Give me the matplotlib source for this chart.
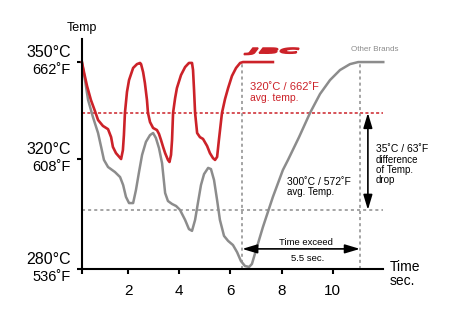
import matplotlib
matplotlib.use('Agg')
import matplotlib.pyplot as plt
from matplotlib.textpath import TextPath
from matplotlib.patches import PathPatch
from matplotlib.font_manager import FontProperties
from matplotlib.transforms import Affine2D

plt.rcParams['font.family'] = ['Liberation Sans', 'DejaVu Sans']

# JBC curve (time in sec, temperature on chart scale)
jbc_t = [0.20, 0.28, 0.40, 0.55, 0.71, 0.83, 1.02, 1.22, 1.34, 1.41, 1.53, 1.73,
         1.80, 1.84, 1.88, 1.96, 2.04, 2.20, 2.35, 2.47, 2.51, 2.59, 2.66, 2.74,
         2.78, 2.86, 2.98, 3.13, 3.21, 3.29, 3.37, 3.45, 3.56, 3.62, 3.68, 3.72,
         3.76, 3.84, 3.91, 4.07, 4.23, 4.38, 4.50, 4.54, 4.58, 4.62, 4.70, 4.81,
         4.93, 5.09, 5.20, 5.32, 5.40, 5.48, 5.55, 5.67, 5.79, 5.91, 6.06, 6.22,
         6.38, 6.49, 7.66]
jbc_temp = [350.0, 346.6, 341.9, 337.2, 333.4, 330.4, 328.4, 327.3, 324.6, 321.3, 319.2, 317.2,
            320.2, 325.3, 332.8, 339.9, 343.9, 348.0, 349.3, 349.7, 349.3, 346.6, 342.9, 337.2,
            332.8, 329.7, 327.7, 327.0, 325.7, 323.6, 321.3, 319.2, 316.9, 316.2, 318.6, 323.6,
            332.8, 337.8, 341.2, 345.6, 348.3, 349.7, 349.7, 347.3, 340.5, 332.8, 326.0, 324.6,
            324.0, 321.6, 319.2, 317.5, 316.9, 317.9, 323.6, 332.8, 337.5, 341.2, 345.3, 348.0,
            349.7, 350.0, 350.0]

# Other brands curve
other_t = [0.20, 0.32, 0.44, 0.63, 0.83, 0.95, 1.06, 1.22, 1.49, 1.69, 1.81, 1.92,
           2.04, 2.20, 2.31, 2.43, 2.55, 2.70, 2.86, 2.98, 3.09, 3.21, 3.33, 3.45,
           3.56, 3.72, 3.88, 4.03, 4.23, 4.38, 4.50, 4.62, 4.73, 4.85, 4.97, 5.13,
           5.24, 5.36, 5.48, 5.59, 5.75, 5.91, 6.10, 6.26, 6.41, 6.57, 6.73, 6.84,
           7.00, 7.27, 7.66, 8.05, 8.25, 8.68, 9.11, 9.50, 9.89, 10.28, 10.67, 10.99,
           11.97]
other_temp = [350.0, 343.9, 337.2, 331.4, 326.0, 321.3, 316.9, 314.5, 312.8, 311.1, 308.4, 304.4,
              302.3, 302.3, 306.7, 312.8, 318.6, 323.0, 325.3, 326.0, 324.3, 320.9, 315.8, 305.7,
              303.0, 302.0, 301.3, 300.0, 296.6, 293.5, 292.9, 296.6, 302.3, 308.4, 312.1, 314.2,
              313.8, 310.1, 303.3, 296.6, 291.2, 289.5, 288.1, 285.7, 282.7, 281.0, 280.7, 281.7,
              286.4, 294.2, 304.4, 313.5, 316.9, 324.6, 332.8, 339.2, 343.9, 347.3, 349.3, 350.0,
              350.0]

jbc_avg = 332.8
other_avg = 300.0
t_jbc_stable = 6.46
t_other_stable = 11.06

y_ticks = [280, 317.2, 350]
y_c_labels = ['280°C', '320°C', '350°C']
y_f_labels = ['536˚F', '608˚F', '662˚F']
x_ticks = [0.203, 2, 4, 6, 8, 10]
x_labels = ['', '2', '4', '6', '8', '10']

red = '#cc2229'
gray = '#8c8c8c'

fig = plt.figure(figsize=(4.56, 3.22), dpi=100)
ax = fig.add_axes([82 / 456, 53 / 322, 301 / 456, 230 / 322])

ax.axhline(jbc_avg, color=red, lw=1.1, ls=(0, (2, 1.5)))
ax.axhline(other_avg, color=gray, lw=1.1, ls=(0, (2, 2)))
ax.vlines([t_jbc_stable, t_other_stable], 280, 350, colors=gray, lw=1.1, ls=(0, (2, 2)))

ax.plot(other_t, other_temp, color=gray, lw=1.8, solid_joinstyle='round', clip_on=False)
ax.plot(jbc_t, jbc_temp, color=red, lw=1.9, solid_joinstyle='round', clip_on=False)

arrow = dict(arrowstyle='<|-|>,head_length=0.5,head_width=0.15', color='black',
             lw=1.2, mutation_scale=18, shrinkA=0, shrinkB=0)
ax.annotate('', xy=(11.37, other_avg), xytext=(11.37, jbc_avg), arrowprops=arrow)
ax.annotate('', xy=(t_jbc_stable, 286.8), xytext=(t_other_stable, 286.8), arrowprops=arrow)

ax.set_xlim(0.203, 11.96)
ax.set_ylim(280, 357.8)
ax.set_xticks(x_ticks)
ax.set_xticklabels(x_labels)
ax.set_yticks(y_ticks)
ax.set_yticklabels([''] * 3)
ax.tick_params(direction='out', length=3.6, width=1.5, colors='black')
ax.tick_params(axis='x', labelsize=11, pad=7)
for s in ['top', 'right']:
    ax.spines[s].set_visible(False)
for s in ['left', 'bottom']:
    ax.spines[s].set_linewidth(1.5)

# y labels in two lines with different sizes
ytr = ax.get_yaxis_transform()
for yv, c, f in zip(y_ticks, y_c_labels, y_f_labels):
    ax.annotate(c, xy=(0, yv), xycoords=ytr, xytext=(-8, 7), textcoords='offset points',
                ha='right', va='center', fontsize=11.5)
    ax.annotate(f, xy=(0, yv), xycoords=ytr, xytext=(-8, -5.5), textcoords='offset points',
                ha='right', va='center', fontsize=10.5)

ax.text(6.77, 341.6, '320˚C / 662˚F', color=red, fontsize=8, va='center')
ax.text(6.77, 337.8, 'avg. temp.', color=red, fontsize=7.5, va='center')
ax.text(8.21, 309.4, '300˚C / 572˚F', color='black', fontsize=7.5, va='center')
ax.text(8.21, 306.0, 'avg. Temp.', color='black', fontsize=7, va='center')
diff_lines = ['35˚C / 63˚F', 'difference', 'of Temp.', 'drop']
diff_y = [320.6, 316.9, 313.5, 310.1]
for txt, yv in zip(diff_lines, diff_y):
    ax.text(11.69, yv, txt, fontsize=7.5 if txt.startswith('35') else 7, va='center')
ax.text(8.95, 289.1, 'Time exceed', fontsize=6.8, ha='center', va='center')
ax.text(9.03, 283.7, '5.5 sec.', fontsize=6.8, ha='center', va='center')
ax.text(11.65, 354.1, 'Other Brands', fontsize=5.8, color=gray, ha='center', va='center')

fig.text(82 / 456, 1 - 28 / 322, 'Temp', fontsize=9, ha='center', va='center')
fig.text(390 / 456, 1 - 267 / 322, 'Time', fontsize=10, ha='left', va='center')
fig.text(390 / 456, 1 - 281 / 322, 'sec.', fontsize=10, ha='left', va='center')

# JBC logo: wide heavy italic lettering
tp = TextPath((0, 0), 'JBC', size=10, prop=FontProperties(family='DejaVu Sans', weight='bold', style='italic'))
ext = tp.get_extents()
sx = 0.55 / ext.width
sy = 0.065 / ext.height
logo_tr = Affine2D().translate(-ext.x0, -ext.y0).scale(sx, sy).translate(2.44, 2.675) + fig.dpi_scale_trans
fig.add_artist(PathPatch(tp, transform=logo_tr, facecolor=red, edgecolor=red, lw=1.2))

fig.savefig('out.png', dpi=100)
